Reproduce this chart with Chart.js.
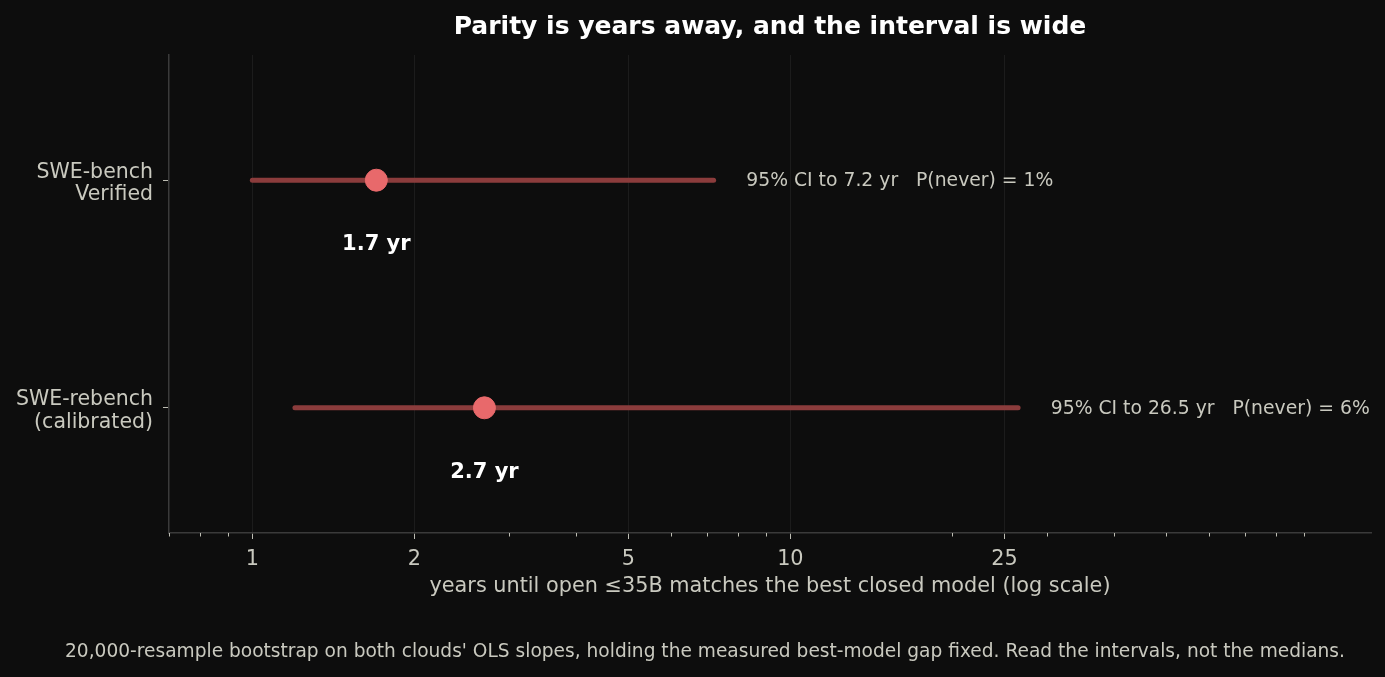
<!DOCTYPE html>
<html>
<head>
<meta charset="utf-8">
<script src="https://cdn.jsdelivr.net/npm/chart.js@4.4.1/dist/chart.umd.min.js"></script>
<style>
  html, body { margin: 0; padding: 0; background: #0d0d0d; }
  canvas { display: block; }
</style>
</head>
<body>
<canvas id="chart" width="1385" height="677"></canvas>
<script>
// data
const categories = [['SWE-bench', 'Verified'], ['SWE-rebench', '(calibrated)']];
const medians = [1.7, 2.7];
const ciLow = [1.0, 1.2];
const ciHigh = [7.2, 26.5];
const pNever = [1, 6];
const xTicks = [1, 2, 5, 10, 25];
const minorTicks = [0.7, 0.8, 0.9, 3, 4, 6, 7, 8, 9, 20, 30, 40, 50, 60, 70, 80, 90];

const textColor = '#c9c9bf';
const lineColor = '#8b3c3c';
const dotColor = '#e8696b';
const font = 'DejaVu Sans';

Chart.defaults.font.family = font;
Chart.defaults.color = textColor;

const ciSets = categories.map((c, i) => ({
  type: 'line',
  data: [{ x: ciLow[i], y: i }, { x: ciHigh[i], y: i }],
  borderColor: lineColor,
  borderWidth: 5,
  borderCapStyle: 'round',
  pointRadius: 0,
  showLine: true,
  order: 2
}));

const medianSet = {
  type: 'scatter',
  data: medians.map((m, i) => ({ x: m, y: i })),
  backgroundColor: dotColor,
  borderColor: dotColor,
  pointRadius: 11,
  pointHoverRadius: 11,
  order: 1
};

const annotations = {
  id: 'annotations',
  afterDatasetsDraw(chart) {
    const { ctx, scales: { x, y } } = chart;
    ctx.save();
    ctx.textBaseline = 'middle';
    categories.forEach((c, i) => {
      ctx.fillStyle = textColor;
      ctx.font = '18.8px "' + font + '"';
      ctx.textAlign = 'left';
      ctx.fillText('95% CI to ' + ciHigh[i] + ' yr   P(never) = ' + pNever[i] + '%',
        x.getPixelForValue(ciHigh[i] * 1.15), y.getPixelForValue(i) + 1);
      ctx.fillStyle = '#ffffff';
      ctx.font = 'bold 21px "' + font + '"';
      ctx.textAlign = 'center';
      ctx.fillText(medians[i] + ' yr', x.getPixelForValue(medians[i]), y.getPixelForValue(i + 0.28) + 1);
    });
    // minor ticks on the log axis
    ctx.strokeStyle = '#bdbdb3';
    ctx.lineWidth = 1;
    minorTicks.forEach(v => {
      const px = Math.round(x.getPixelForValue(v)) + 0.5;
      ctx.beginPath();
      ctx.moveTo(px, x.top);
      ctx.lineTo(px, x.top + 3.5);
      ctx.stroke();
    });
    // footnote
    ctx.fillStyle = textColor;
    ctx.font = '18.6px "' + font + '"';
    ctx.textAlign = 'center';
    ctx.fillText("20,000-resample bootstrap on both clouds' OLS slopes, holding the measured best-model gap fixed. Read the intervals, not the medians.",
      705, 652);
    ctx.restore();
  }
};

new Chart(document.getElementById('chart'), {
  data: { datasets: [...ciSets, medianSet] },
  options: {
    responsive: false,
    animation: false,
    layout: { padding: { left: 0, right: 14, top: 0, bottom: 76 } },
    plugins: {
      legend: { display: false },
      tooltip: { enabled: false },
      title: {
        display: true,
        fullSize: false,
        text: 'Parity is years away, and the interval is wide',
        color: '#ffffff',
        font: { size: 25, weight: 'bold' },
        padding: { top: 12, bottom: 13 }
      }
    },
    scales: {
      x: {
        type: 'logarithmic',
        min: 0.7,
        max: 120,
        afterBuildTicks: s => { s.ticks = xTicks.map(v => ({ value: v })); },
        afterFit: s => { s.height = 68; },
        ticks: {
          callback: v => String(v),
          color: textColor,
          font: { size: 20.8 },
          padding: 8,
          maxRotation: 0,
          autoSkip: false
        },
        grid: {
          color: '#1c1c1c',
          tickColor: '#bdbdb3',
          tickLength: 6,
          lineWidth: 1
        },
        border: { color: '#3a3a3a', width: 1.5 },
        title: {
          display: true,
          text: 'years until open \u226435B matches the best closed model (log scale)',
          color: textColor,
          font: { size: 20.8 },
          padding: { top: 4, bottom: 2 }
        }
      },
      y: {
        type: 'linear',
        reverse: true,
        min: -0.55,
        max: 1.55,
        afterBuildTicks: s => { s.ticks = categories.map((c, i) => ({ value: i })); },
        afterFit: s => { s.width = 169; },
        ticks: {
          callback: v => categories[v],
          color: textColor,
          font: { size: 20.5, lineHeight: 1.1 },
          padding: 10,
          labelOffset: 3.5
        },
        grid: {
          drawOnChartArea: false,
          tickColor: '#bdbdb3',
          tickLength: 6
        },
        border: { color: '#3a3a3a', width: 1.5 }
      }
    }
  },
  plugins: [annotations]
});
</script>
</body>
</html>
